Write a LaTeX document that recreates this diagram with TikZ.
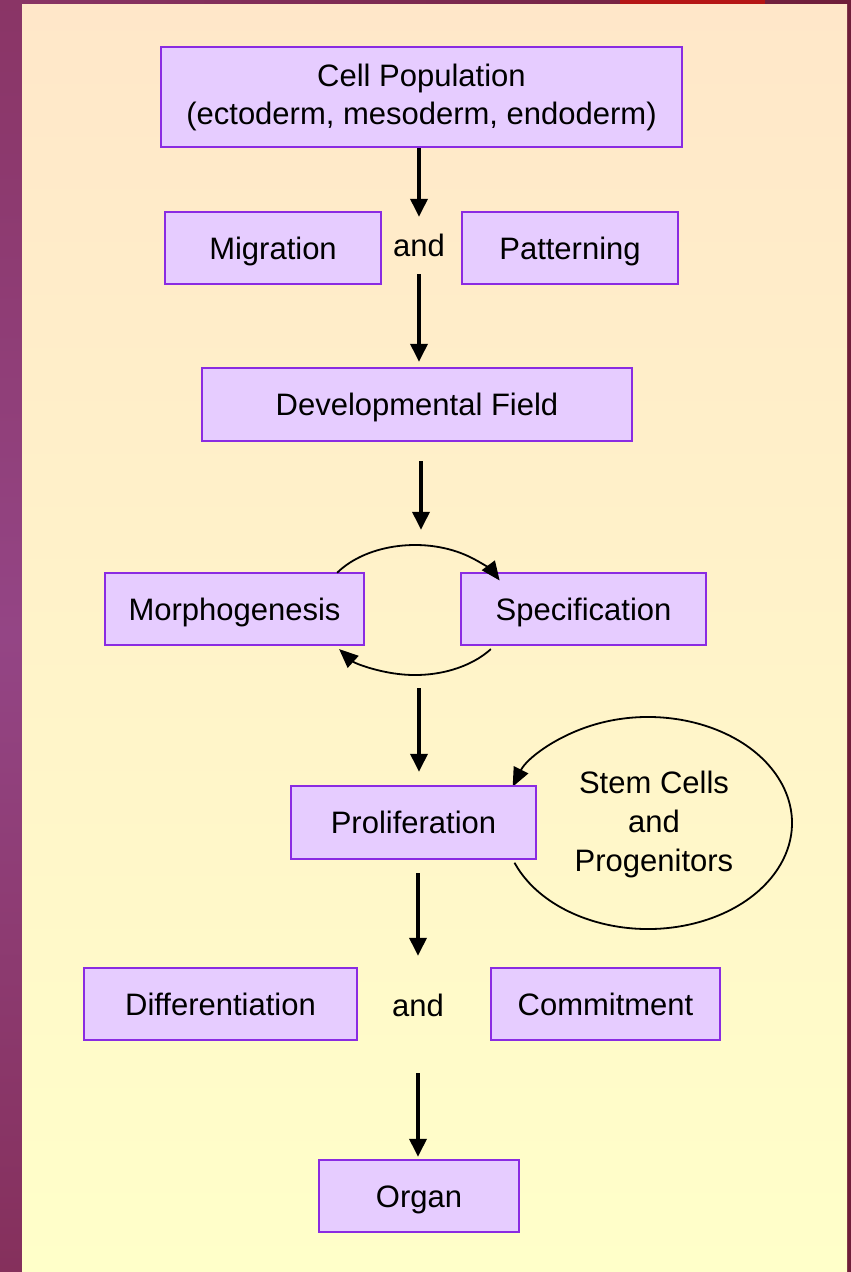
\documentclass[tikz,border=0pt]{standalone}
\usepackage{fontspec}
\setmainfont{Liberation Sans}
\usetikzlibrary{shapes.geometric,arrows.meta,calc,positioning}

\definecolor{boxfill}{HTML}{E6CCFF}
\definecolor{boxline}{HTML}{8A2BE2}
\definecolor{paneltop}{HTML}{FFE7C9}
\definecolor{panelbot}{HTML}{FFFFC9}
\definecolor{framea}{HTML}{8A3566}
\definecolor{frameb}{HTML}{944585}
\definecolor{framec}{HTML}{85305C}
\definecolor{frameright}{HTML}{6F1E3A}
\definecolor{redtab}{HTML}{B51515}

\begin{document}
\begin{tikzpicture}[x=1pt,y=-1pt,
    stage/.style={draw=boxline, fill=boxfill, line width=2.4pt, minimum height=72pt,
        inner sep=0pt, align=center, font=\fontsize{31}{38}\selectfont},
    oneline/.style={text height=22pt, text depth=0pt},
    joiner/.style={inner sep=0pt, font=\fontsize{31}{38}\selectfont},
    flow/.style={line width=3.5pt, -{Triangle[length=18pt,width=17pt]}},
    loop/.style={line width=1.8pt, -{Triangle[length=19pt,width=16pt]}}]
    \useasboundingbox (0,0) rectangle (851,1272);

    % Backdrop
    \shade[left color=framea, right color=frameright] (0,0) rectangle (851,4);
    \shade[top color=framea, bottom color=framec, middle color=frameb] (0,0) rectangle (22,1272);
    \fill[frameright] (847,0) rectangle (851,1272);
    \fill[redtab] (620,0) rectangle (765,4);
    \shade[top color=paneltop, bottom color=panelbot] (22,4) rectangle (847,1272);

    % Stages
    \node[stage, minimum width=521pt, minimum height=100pt] (cell) at (421.5,97)
        {Cell Population\\(ectoderm, mesoderm, endoderm)};
    \node[stage, oneline, minimum width=216pt] (migr) at (273,248) {Migration};
    \node[joiner, minimum height=57pt] (and1) at (419,245.5) {and};
    \node[stage, oneline, minimum width=216pt] (patt) at (570,248) {Patterning};
    \node[stage, oneline, minimum width=430pt, minimum height=73pt] (field) at (417,404.5) {Developmental Field};

    \node[ellipse, minimum width=190pt, minimum height=130pt, inner sep=0pt] (cycle) at (415,610) {};
    \node[stage, oneline, minimum width=259pt] (morph) at (234.5,609) {Morphogenesis};
    \node[stage, oneline, minimum width=245pt] (spec) at (583.5,609) {Specification};

    \coordinate (stemmid) at (648,823);
    \draw[loop] ($(stemmid)+(158:144 and 106)$) arc[start angle=158, end angle=-160, x radius=144, y radius=106];
    \node[stage, oneline, minimum width=245pt, minimum height=73pt] (prolif) at (413.5,822.5) {Proliferation};
    \node[joiner, align=center, font=\fontsize{31}{39}\selectfont] (stem) at (654,824)
        {Stem Cells\\and\\Progenitors};

    \node[stage, oneline, minimum width=273pt] (diff) at (220.5,1004) {Differentiation};
    \node[joiner, minimum height=98pt] (and2) at (418,1005) {and};
    \node[stage, oneline, minimum width=229pt] (commit) at (605.5,1004) {Commitment};
    \node[stage, oneline, minimum width=200pt] (organ) at (419,1196) {Organ};

    % Arrows
    \draw[flow] (cell.south -| and1) -- (and1.north);
    \draw[flow, shorten >=5pt] (and1.south) -- (field.north -| and1);
    \draw[flow, shorten <=19pt, shorten >=15pt] (field.south -| 421,0) -- (cycle.north -| 421,0);
    \draw[flow, shorten <=13pt, shorten >=13pt] (cycle.south -| 419,0) -- (prolif.north -| 419,0);
    \draw[flow, shorten <=13pt] (prolif.south -| and2) -- (and2.north);
    \draw[flow, shorten <=19pt, shorten >=2pt] (and2.south) -- (organ.north -| and2);

    % Feedback between morphogenesis and specification
    \draw[loop] ($(cycle.center)+(215:95 and 65)$) arc[start angle=215, end angle=333, x radius=95, y radius=65];
    \draw[loop] ($(cycle.center)+(37:95 and 65)$) arc[start angle=37, end angle=143, x radius=95, y radius=65];
\end{tikzpicture}
\end{document}
